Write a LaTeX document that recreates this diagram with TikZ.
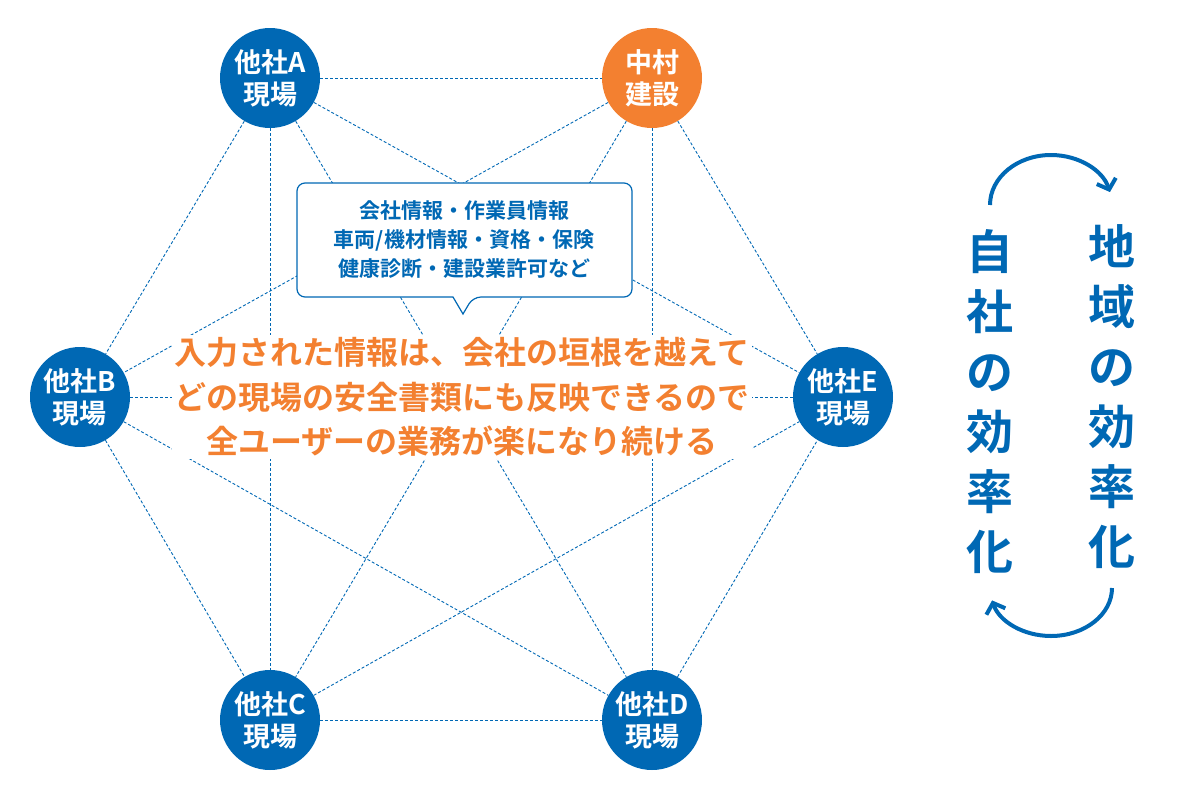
\documentclass[tikz,border=0pt]{standalone}
\usepackage{fontspec}
\usetikzlibrary{arrows.meta, shapes, positioning, backgrounds}
\newfontfamily\jpfont{Noto Sans CJK JP Bold}
\definecolor{siteblue}{RGB}{0, 104, 180}
\definecolor{ownorange}{RGB}{243, 128, 48}
\tikzset{
  site/.style={circle, fill=siteblue, text=white, minimum size=100pt, inner sep=0pt, align=center, font=\jpfont\fontsize{27}{32}\selectfont},
  own/.style={site, fill=ownorange},
  link/.style={siteblue, line width=0.9pt, dash pattern=on 3pt off 2pt},
  bigtext/.style={siteblue, align=center, font=\jpfont\fontsize{47}{60}\selectfont}
}
\begin{document}
\begin{tikzpicture}[x=1pt, y=-1pt]
  \useasboundingbox (0,0) rectangle (1200,798);
  % 現場
  \node[site] (a) at (270,78) {他社A\\現場};
  \node[own]  (n) at (652,78) {中村\\建設};
  \node[site] (b) at (80,397) {他社B\\現場};
  \node[site] (e) at (843,397) {他社E\\現場};
  \node[site] (c) at (270,720) {他社C\\現場};
  \node[site] (d) at (652,720) {他社D\\現場};
  % 点線
  \begin{scope}[on background layer]
  \foreach \p/\q in {a/n,a/b,a/c,a/d,a/e,n/b,n/c,n/d,n/e,b/c,b/d,b/e,c/d,c/e,d/e}
    \draw[link] (\p) -- (\q);
  \end{scope}
  % 吹き出し
  \draw[siteblue, line width=1.2pt, fill=white, rounded corners=8pt]
    (297,183) -- (632,183) -- (632,297) -- (473,297) [sharp corners] -- (463,314) -- (453,297) [rounded corners=8pt] -- (297,297) -- cycle;
  \node[siteblue, align=center, font=\jpfont\fontsize{21}{29}\selectfont] (info) at (464,240)
    {会社情報・作業員情報\\車両/機材情報・資格・保険\\健康診断・建設業許可など};
  % メッセージ
  \node[ownorange, fill=white, align=center, inner sep=2pt, font=\jpfont\fontsize{32}{44.5}\selectfont] (msg) at (462,397)
    {入力された情報は、会社の垣根を越えて\\どの現場の安全書類にも反映できるので\\全ユーザーの業務が楽になり続ける};
  % 効率化
  \node[bigtext] (self) at (990,402) {自\\社\\の\\効\\率\\化};
  \node[bigtext] (area) at (1112,397) {地\\域\\の\\効\\率\\化};
  \draw[siteblue, line width=4pt, -{Straight Barb[length=9pt, width=20pt]}]
    (990,205) arc[start angle=180, end angle=15, x radius=61, y radius=-50];
  \draw[siteblue, line width=4pt, -{Straight Barb[length=9pt, width=20pt]}]
    (1112,588) arc[start angle=0, end angle=-165, x radius=61, y radius=-48];
\end{tikzpicture}
\end{document}
